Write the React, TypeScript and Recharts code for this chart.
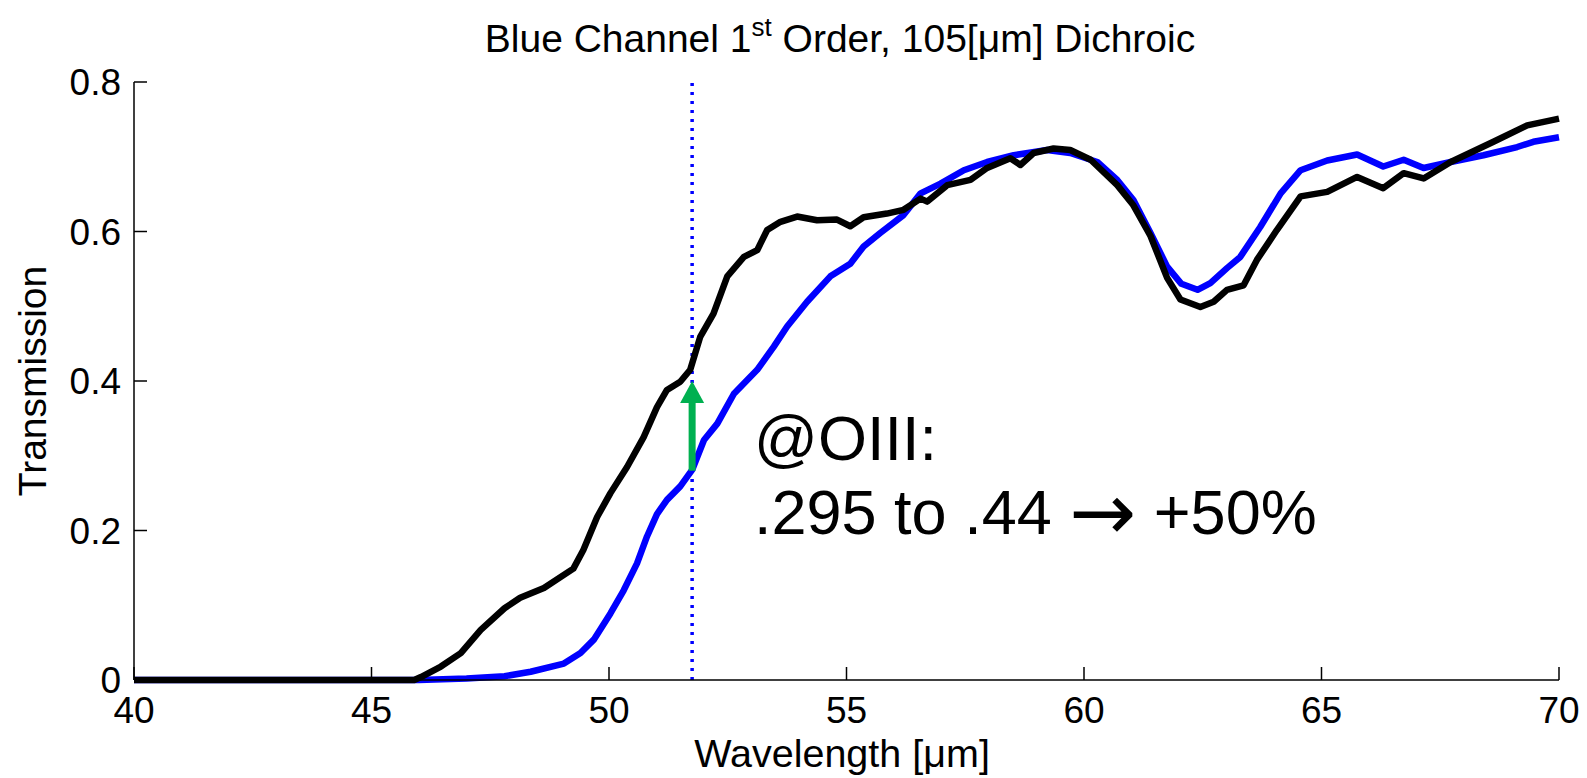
import { LineChart, Line, XAxis, YAxis, ReferenceLine } from 'recharts'

const FONT = '"Liberation Sans", Arial, Helvetica, sans-serif'

// OIII line position and the transmission jump marked by the green arrow
const OIII_WAVELENGTH = 51.75
const ARROW_FROM = 0.28
const ARROW_TO = 0.4

const X_TICKS = [40, 45, 50, 55, 60, 65, 70]
const Y_TICKS = [0, 0.2, 0.4, 0.6, 0.8]

// old dichroic (blue)
const blueWavelength = [
  40, 46.0, 47.0, 47.8, 48.35, 49.05, 49.4, 49.68, 50.03, 50.31, 50.59, 50.8, 51.01, 51.22, 51.5,
  51.75, 52.0, 52.28, 52.63, 53.12, 53.47, 53.75, 54.17, 54.66, 55.08, 55.36, 55.71, 56.2, 56.56,
  56.98, 57.47, 57.96, 58.52, 59.22, 59.71, 60.28, 60.7, 61.04, 61.4, 61.75, 62.05, 62.39, 62.66,
  63.01, 63.29, 63.71, 64.14, 64.56, 65.12, 65.75, 66.3, 66.73, 67.15, 67.72, 68.41, 69.12, 69.46,
  70,
]
const blueTransmission = [
  0, 0, 0.002, 0.005, 0.011, 0.022, 0.036, 0.054, 0.089, 0.12, 0.156, 0.192, 0.222, 0.241, 0.259,
  0.281, 0.321, 0.343, 0.383, 0.415, 0.446, 0.473, 0.506, 0.54, 0.557, 0.58, 0.598, 0.622, 0.651,
  0.664, 0.682, 0.693, 0.702, 0.709, 0.705, 0.693, 0.669, 0.642, 0.598, 0.553, 0.53, 0.522, 0.531,
  0.551, 0.566, 0.606, 0.651, 0.682, 0.695, 0.703, 0.687, 0.696, 0.685, 0.693, 0.702, 0.713, 0.72,
  0.726,
]

// new dichroic (black)
const blackWavelength = [
  40, 45.9, 46.04, 46.46, 46.88, 47.3, 47.8, 48.13, 48.63, 49.25, 49.46, 49.75, 50.03, 50.38, 50.73,
  51.01, 51.22, 51.5, 51.71, 51.92, 52.2, 52.49, 52.84, 53.12, 53.33, 53.61, 53.96, 54.38, 54.8,
  55.08, 55.36, 55.85, 56.2, 56.56, 56.7, 57.12, 57.61, 57.96, 58.45, 58.66, 58.94, 59.36, 59.71,
  60.14, 60.7, 61.04, 61.4, 61.75, 62.03, 62.45, 62.73, 63.01, 63.36, 63.64, 64.06, 64.56, 65.12,
  65.75, 66.3, 66.73, 67.15, 67.72, 68.62, 69.33, 70,
]
const blackTransmission = [
  0, 0, 0.004, 0.018, 0.036, 0.067, 0.096, 0.11, 0.123, 0.149, 0.174, 0.218, 0.25, 0.285, 0.325,
  0.365, 0.388, 0.399, 0.415, 0.459, 0.49, 0.54, 0.566, 0.575, 0.602, 0.613, 0.62, 0.615, 0.616,
  0.607, 0.619, 0.624, 0.629, 0.644, 0.64, 0.662, 0.669, 0.685, 0.698, 0.689, 0.705, 0.711, 0.709,
  0.696, 0.662, 0.635, 0.594, 0.538, 0.509, 0.499, 0.506, 0.522, 0.528, 0.562, 0.602, 0.647, 0.653,
  0.673, 0.658, 0.678, 0.671, 0.693, 0.72, 0.742, 0.751,
]

const toPoints = (xs: number[], ys: number[]) => xs.map((x, i) => ({ x, y: ys[i] }))

const blueData = toPoints(blueWavelength, blueTransmission)
const blackData = toPoints(blackWavelength, blackTransmission)

function XTick({ x, y, payload }: any) {
  return (
    <g>
      <line x1={x} y1={y} x2={x} y2={y - 13} stroke="#000" strokeWidth={1.5} />
      <text x={x} y={y + 43} textAnchor="middle" fontSize={37} fontFamily={FONT} fill="#000">
        {payload.value}
      </text>
    </g>
  )
}

function YTick({ x, y, payload }: any) {
  return (
    <g>
      <line x1={x} y1={y} x2={x + 13} y2={y} stroke="#000" strokeWidth={1.5} />
      <text x={x - 13} y={y} dy="0.36em" textAnchor="end" fontSize={37} fontFamily={FONT} fill="#000">
        {payload.value}
      </text>
    </g>
  )
}

function Arrow({ x1, y1, y2 }: any) {
  const head = 22
  const half = 12
  return (
    <g fill="#00B050">
      <rect x={x1 - 3.5} y={y2 + head - 1} width={7} height={y1 - y2 - head + 1} />
      <polygon points={`${x1},${y2} ${x1 - half},${y2 + head} ${x1 + half},${y2 + head}`} />
    </g>
  )
}

export default function App() {
  return (
    <div style={{ position: 'absolute', left: 0, top: 0, width: 1587, height: 778, background: '#fff' }}>
      <LineChart width={1587} height={778} margin={{ top: 82, right: 28, bottom: 38, left: 74 }}>
        <XAxis
          type="number"
          dataKey="x"
          domain={[40, 70]}
          ticks={X_TICKS}
          interval={0}
          height={60}
          tickSize={0}
          tickMargin={0}
          tick={<XTick />}
          axisLine={{ stroke: '#000', strokeWidth: 1.5 }}
          allowDuplicatedCategory={false}
        />
        <YAxis
          type="number"
          domain={[0, 0.8]}
          ticks={Y_TICKS}
          interval={0}
          width={60}
          tickSize={0}
          tickMargin={0}
          tick={<YTick />}
          axisLine={{ stroke: '#000', strokeWidth: 1.5 }}
        />
        <ReferenceLine
          x={OIII_WAVELENGTH}
          stroke="#0000FF"
          strokeWidth={3.5}
          strokeDasharray="3 6"
        />
        <Line
          data={blueData}
          dataKey="y"
          type="linear"
          stroke="#0000FF"
          strokeWidth={6.5}
          strokeLinejoin="round"
          dot={false}
          isAnimationActive={false}
        />
        <Line
          data={blackData}
          dataKey="y"
          type="linear"
          stroke="#000000"
          strokeWidth={6.5}
          strokeLinejoin="round"
          dot={false}
          isAnimationActive={false}
        />
        <ReferenceLine
          segment={[
            { x: OIII_WAVELENGTH, y: ARROW_FROM },
            { x: OIII_WAVELENGTH, y: ARROW_TO },
          ]}
          shape={<Arrow />}
        />
      </LineChart>
      <svg
        width={1587}
        height={778}
        style={{ position: 'absolute', left: 0, top: 0, pointerEvents: 'none' }}
        fontFamily={FONT}
      >
        <text x={840} y={52} textAnchor="middle" fontSize={39} fill="#000">
          Blue Channel 1
          <tspan dy={-16} fontSize={26}>st</tspan>
          <tspan dy={16}> Order, 105[μm] Dichroic</tspan>
        </text>
        <text x={842} y={767} textAnchor="middle" fontSize={39.5} fill="#000">
          Wavelength [μm]
        </text>
        <text
          x={46}
          y={381}
          textAnchor="middle"
          fontSize={39}
          fill="#000"
          transform="rotate(-90 46 381)"
        >
          Transmission
        </text>
        <text x={754} y={460} fontSize={63} fill="#000">
          @OIII:
        </text>
        <text x={754} y={534} fontSize={63} fill="#000">
          .295 to .44{' '}
          <tspan fontFamily='"DejaVu Sans", sans-serif' fontSize={80} dy={6}>
            →
          </tspan>
          <tspan dy={-6}> +50%</tspan>
        </text>
      </svg>
    </div>
  )
}
